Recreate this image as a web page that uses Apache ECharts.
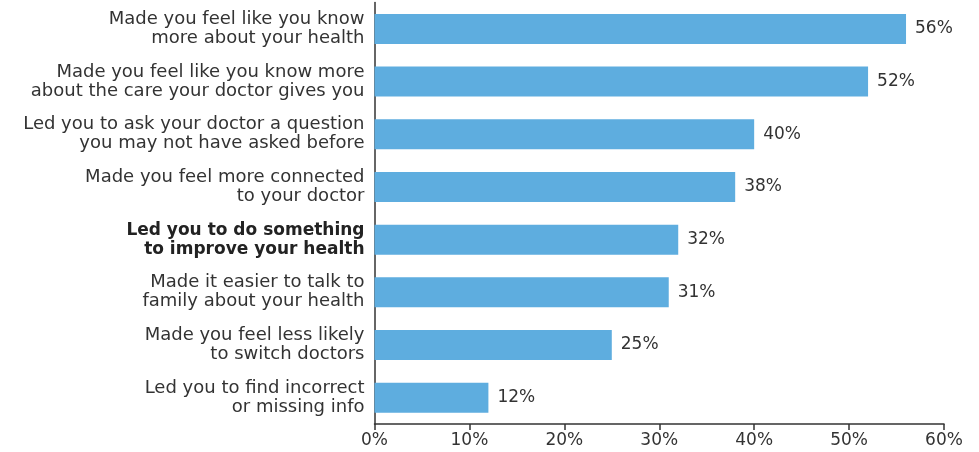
<!DOCTYPE html>
<html>
<head>
<meta charset="utf-8">
<style>
  html, body { margin: 0; padding: 0; background: #ffffff; }
  #chart { width: 979px; height: 452px; }
</style>
<script src="https://cdn.jsdelivr.net/npm/echarts@6/dist/echarts.min.js"></script>
</head>
<body>
<div id="chart"></div>
<script>
// Survey outcomes, listed top to bottom
const categories = [
  'Made you feel like you know\nmore about your health',
  'Made you feel like you know more\nabout the care your doctor gives you',
  'Led you to ask your doctor a question\nyou may not have asked before',
  'Made you feel more connected\nto your doctor',
  'Led you to do something\nto improve your health',
  'Made it easier to talk to\nfamily about your health',
  'Made you feel less likely\nto switch doctors',
  'Led you to find incorrect\nor missing info'
];
const shares = [56, 52, 40, 38, 32, 31, 25, 12];
const highlighted = 'Led you to do something\nto improve your health';
const axisTicks = [0, 10, 20, 30, 40, 50, 60];

const FONT = 'DejaVu Sans';
const TEXT = '#333333';

const chart = echarts.init(document.getElementById('chart'), null, { renderer: 'canvas' });

chart.setOption({
  animation: false,
  backgroundColor: '#ffffff',
  grid: { left: 374.5, right: 35, top: 2.6, bottom: 28, containLabel: false },
  xAxis: {
    type: 'value',
    min: axisTicks[0],
    max: axisTicks[axisTicks.length - 1],
    interval: axisTicks[1] - axisTicks[0],
    splitLine: { show: false },
    axisLine: { show: true, lineStyle: { color: TEXT, width: 1.5 } },
    axisTick: { show: true, length: 6, lineStyle: { color: TEXT, width: 1.5 } },
    axisLabel: {
      color: TEXT, fontFamily: FONT, fontSize: 17, margin: 8,
      formatter: v => v + '%'
    }
  },
  yAxis: {
    type: 'category',
    inverse: true,
    data: categories,
    axisLine: { show: true, lineStyle: { color: TEXT, width: 1.5 } },
    axisTick: { show: false },
    axisLabel: {
      margin: 10,
      align: 'right',
      color: TEXT,
      fontFamily: FONT,
      fontSize: 18,
      lineHeight: 19,
      formatter: v => v === highlighted
        ? v.split('\n').map(s => '{b|' + s + '}').join('\n')
        : v,
      rich: {
        b: { fontWeight: 'bold', color: '#222222', fontFamily: FONT, fontSize: 17, lineHeight: 19 }
      }
    }
  },
  series: [{
    type: 'bar',
    data: shares,
    barWidth: 30,
    itemStyle: { color: '#5EADDF' },
    label: {
      show: true,
      position: 'right',
      distance: 9,
      color: TEXT,
      fontFamily: FONT,
      fontSize: 17,
      formatter: p => p.value + '%'
    }
  }]
});
</script>
</body>
</html>
